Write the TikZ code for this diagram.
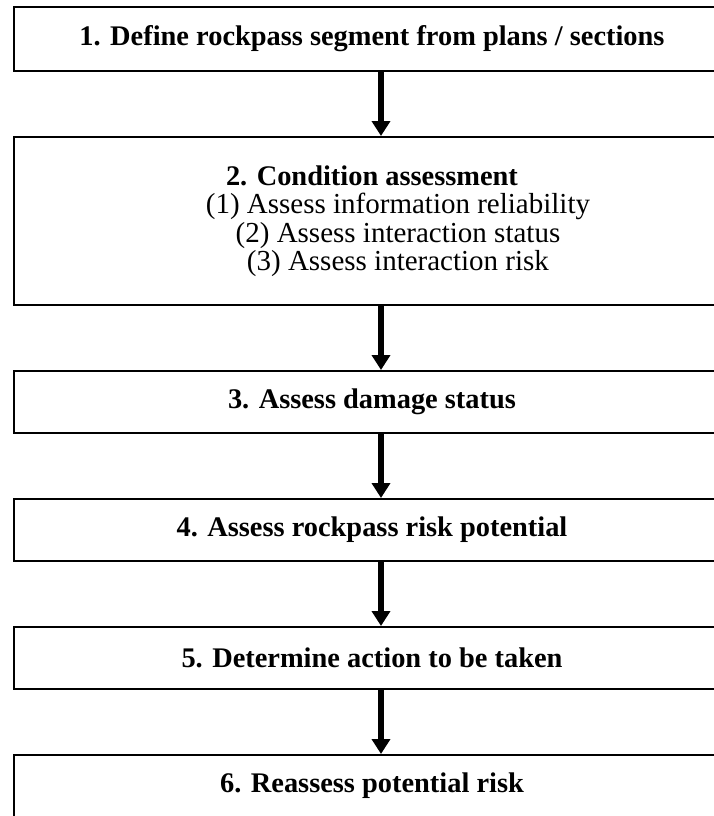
\documentclass[tikz,border=0pt]{standalone}
\usepackage{fontspec}
\setmainfont{Liberation Serif}
\usetikzlibrary{positioning,arrows.meta}

\begin{document}
\begin{tikzpicture}[
        node distance = 64pt,
        flow/.style={line width=6.5pt, -{Triangle[length=15pt,width=18pt]}}
    ]
    \tikzstyle{stage} = [
        draw, line width=2pt,
        minimum width = 716pt,
        minimum height = 62pt,
        align = center,
        font = \fontsize{28.4}{28.5}\selectfont\bfseries
    ]
    \newcommand{\substep}[1]{{\fontsize{29}{28.5}\selectfont\mdseries\hspace*{52pt}#1}}

    \useasboundingbox (0,0) rectangle (714pt,-816pt);

    \node [stage, minimum height = 64pt] (define) at (372pt,-39pt) {1. Define rockpass segment from plans / sections};
    \node [stage, below = of define, minimum height = 168pt] (condition) {2. Condition assessment\\
        \substep{(1) Assess information reliability}\\
        \substep{(2) Assess interaction status}\\
        \substep{(3) Assess interaction risk}};
    \node [stage, below = of condition] (damage) {3. Assess damage status};
    \node [stage, below = of damage] (potential) {4. Assess rockpass risk potential};
    \node [stage, below = of potential] (action) {5. Determine action to be taken};
    \node [stage, below = of action] (reassess) {6. Reassess potential risk};

    \draw [flow] ([xshift=9pt]define.south) -- ([xshift=9pt]condition.north);
    \draw [flow] ([xshift=9pt]condition.south) -- ([xshift=9pt]damage.north);
    \draw [flow] ([xshift=9pt]damage.south) -- ([xshift=9pt]potential.north);
    \draw [flow] ([xshift=9pt]potential.south) -- ([xshift=9pt]action.north);
    \draw [flow] ([xshift=9pt]action.south) -- ([xshift=9pt]reassess.north);
\end{tikzpicture}
\end{document}
